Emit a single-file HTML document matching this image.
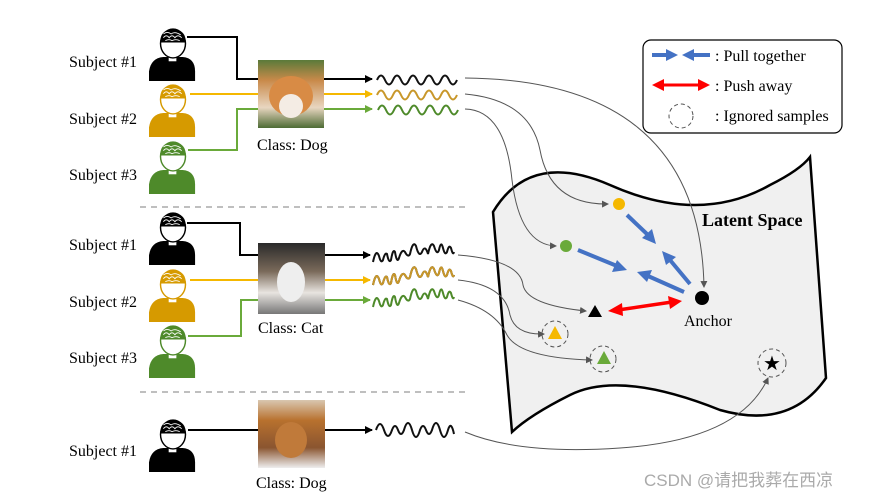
<!DOCTYPE html>
<html><head><meta charset="utf-8"><style>
html,body{margin:0;padding:0;background:#fff;}
svg{display:block;}
text{font-family:"Liberation Serif",serif;}
</style></head><body>
<svg width="871" height="499" viewBox="0 0 871 499" xmlns="http://www.w3.org/2000/svg">
<defs>
<marker id="ak" markerWidth="8" markerHeight="8" refX="7" refY="4" orient="auto" markerUnits="userSpaceOnUse"><path d="M0,0 L8,4 L0,8 Z" fill="#000"/></marker>
<marker id="ao" markerWidth="8" markerHeight="8" refX="7" refY="4" orient="auto" markerUnits="userSpaceOnUse"><path d="M0,0 L8,4 L0,8 Z" fill="#f5b800"/></marker>
<marker id="ag" markerWidth="8" markerHeight="8" refX="7" refY="4" orient="auto" markerUnits="userSpaceOnUse"><path d="M0,0 L8,4 L0,8 Z" fill="#6aaa3a"/></marker>
<marker id="ay" markerWidth="7" markerHeight="7" refX="6" refY="3.5" orient="auto" markerUnits="userSpaceOnUse"><path d="M0,0 L7,3.5 L0,7 Z" fill="#555"/></marker>
<linearGradient id="dog" x1="0" y1="0" x2="0" y2="1"><stop offset="0" stop-color="#5a7a3a"/><stop offset="0.3" stop-color="#c98a4a"/><stop offset="0.7" stop-color="#e8d6c0"/><stop offset="1" stop-color="#4d6b34"/></linearGradient>
<linearGradient id="cat" x1="0" y1="0" x2="0" y2="1"><stop offset="0" stop-color="#2a2a2a"/><stop offset="0.4" stop-color="#7a6a5a"/><stop offset="0.7" stop-color="#e8e4e0"/><stop offset="1" stop-color="#777"/></linearGradient>
<linearGradient id="dog2" x1="0" y1="0" x2="0" y2="1"><stop offset="0" stop-color="#d9c7b0"/><stop offset="0.3" stop-color="#b8712e"/><stop offset="0.7" stop-color="#8a5530"/><stop offset="1" stop-color="#eee"/></linearGradient>
<symbol id="p" viewBox="0 0 50 56" overflow="visible">
<path d="M0,54 L0,44 Q2,30 15,29 L35,29 Q48,30 48,44 L48,54 Z"/>
<rect x="20" y="26" width="9" height="8" fill="#fff" stroke="currentColor" stroke-width="1"/>
<ellipse cx="25" cy="15" rx="13" ry="15" fill="#fff" stroke="currentColor" stroke-width="1.5"/>
<path d="M12,14 Q11,1 25,0 Q39,1 38,14 Z"/>
<path d="M15,9 q3,-4 6,0 q3,-4 6,0 q3,-4 7,0 M15,5 q4,-3 8,0 q4,-3 10,1 M17,12 q4,-2 7,0 q4,-2 8,0" stroke="#fff" stroke-width="0.9" fill="none"/>
</symbol>
</defs>
<line x1="140" y1="207" x2="467" y2="207" stroke="#aaa" stroke-width="1.5" stroke-dasharray="6,5"/>
<line x1="140" y1="392" x2="467" y2="392" stroke="#aaa" stroke-width="1.5" stroke-dasharray="6,5"/>

<g font-size="16" fill="#000">
<text x="69" y="67">Subject #1</text>
<text x="69" y="124">Subject #2</text>
<text x="69" y="180">Subject #3</text>
<text x="69" y="250">Subject #1</text>
<text x="69" y="307">Subject #2</text>
<text x="69" y="363">Subject #3</text>
<text x="69" y="456">Subject #1</text>
<text x="257" y="150">Class: Dog</text>
<text x="258" y="333">Class: Cat</text>
<text x="256" y="488">Class: Dog</text>
</g>

<use href="#p" x="149" y="29" width="48" height="54" fill="#000" color="#000"/>
<use href="#p" x="149" y="85" width="48" height="54" fill="#d69a00" color="#d69a00"/>
<use href="#p" x="149" y="142" width="48" height="54" fill="#4e8a2a" color="#4e8a2a"/>
<use href="#p" x="149" y="213" width="48" height="54" fill="#000" color="#000"/>
<use href="#p" x="149" y="270" width="48" height="54" fill="#d69a00" color="#d69a00"/>
<use href="#p" x="149" y="326" width="48" height="54" fill="#4e8a2a" color="#4e8a2a"/>
<use href="#p" x="149" y="420" width="48" height="54" fill="#000" color="#000"/>

<g fill="none" stroke-width="2">
<polyline points="187,37 237,37 237,79 258,79" stroke="#000"/>
<line x1="324" y1="79" x2="372" y2="79" stroke="#000" marker-end="url(#ak)"/>
<line x1="190" y1="94" x2="372" y2="94" stroke="#f5b800" marker-end="url(#ao)"/>
<polyline points="188,150 237,150 237,109 258,109" stroke="#6aaa3a"/>
<line x1="324" y1="109" x2="372" y2="109" stroke="#6aaa3a" marker-end="url(#ag)"/>

<polyline points="187,223 240,223 240,255 258,255" stroke="#000"/>
<line x1="325" y1="255" x2="370" y2="255" stroke="#000" marker-end="url(#ak)"/>
<line x1="190" y1="280" x2="370" y2="280" stroke="#f5b800" marker-end="url(#ao)"/>
<polyline points="188,336 241,336 241,300 258,300" stroke="#6aaa3a"/>
<line x1="325" y1="300" x2="370" y2="300" stroke="#6aaa3a" marker-end="url(#ag)"/>

<line x1="188" y1="430" x2="372" y2="430" stroke="#000" marker-end="url(#ak)"/>
</g>

<rect x="258" y="60" width="66" height="68" fill="url(#dog)"/>
<ellipse cx="291" cy="96" rx="22" ry="20" fill="#d88b45"/><ellipse cx="291" cy="106" rx="12" ry="12" fill="#f4ece4"/>
<rect x="258" y="243" width="67" height="71" fill="url(#cat)"/>
<ellipse cx="291" cy="282" rx="14" ry="20" fill="#eee"/>
<rect x="258" y="400" width="67" height="68" fill="url(#dog2)"/>
<ellipse cx="291" cy="440" rx="16" ry="18" fill="#c07a3a"/>

<g fill="none" stroke-width="2">
<path d="M377,80 q4,-9 8,0 t8,0 t8,0 t8,0 t8,0 t8,0 t8,0 t8,0 t8,0 t8,0" stroke="#111"/>
<path d="M377,95 q4,-9 8,0 t8,0 t8,0 t8,0 t8,0 t8,0 t8,0 t8,0 t8,0 t8,0" stroke="#c8972a"/>
<path d="M378,110 q4,-9 8,0 t8,0 t8,0 t8,0 t8,0 t8,0 t8,0 t8,0 t8,0 t8,0" stroke="#4e8a2a"/>
<g id="cw">
<path d="M373,262 q3,-14 6,-6 q2,8 4,4 q2,-8 4,-6 q2,10 4,6 q2,-12 4,-8 q2,12 4,6 q3,-10 6,-6 q3,6 5,2 q3,-14 6,-8 q3,12 6,6 q3,-8 6,2 q3,-14 6,-8 q3,10 5,4 q2,-10 4,-2 q2,8 4,4 q2,-8 4,-4 q2,8 3,4" stroke="#111"/>
</g>
<use href="#cw" y="23" stroke="#c8972a"/>
<path d="M373,285 q3,-14 6,-6 q2,8 4,4 q2,-8 4,-6 q2,10 4,6 q2,-12 4,-8 q2,12 4,6 q3,-10 6,-6 q3,6 5,2 q3,-14 6,-8 q3,12 6,6 q3,-8 6,2 q3,-14 6,-8 q3,10 5,4 q2,-10 4,-2 q2,8 4,4 q2,-8 4,-4 q2,8 3,4" stroke="#c8972a"/>
<path d="M373,307 q3,-14 6,-6 q2,8 4,4 q2,-8 4,-6 q2,10 4,6 q2,-12 4,-8 q2,12 4,6 q3,-10 6,-6 q3,6 5,2 q3,-14 6,-8 q3,12 6,6 q3,-8 6,2 q3,-14 6,-8 q3,10 5,4 q2,-10 4,-2 q2,8 4,4 q2,-8 4,-4 q2,8 3,4" stroke="#4e8a2a"/>
<path d="M376,430 q4,-12 8,0 q4,12 8,0 q3,-8 6,0 q3,8 6,0 q4,-14 8,0 q4,14 8,0 q3,-8 6,0 q3,8 6,0 q4,-14 8,0 q4,14 8,0 q3,-10 6,4" stroke="#111"/>
</g>

<path d="M493,212 Q530,150 610,185 Q700,225 770,185 Q800,170 810,157 L826,378 Q790,430 720,410 Q620,370 570,395 Q530,415 512,432 Z" fill="#f0f0f0" stroke="#000" stroke-width="2.5"/>
<text x="702" y="226" font-size="18" font-weight="bold">Latent Space</text>

<g fill="none" stroke="#555" stroke-width="1" marker-end="url(#ay)">
<path d="M465,78 Q700,80 704,287"/>
<path d="M465,94 Q530,100 540,150 Q550,205 608,204"/>
<path d="M465,109 Q505,110 512,180 Q520,245 556,246"/>
<path d="M458,255 Q520,260 523,285 Q527,305 586,311"/>
<path d="M458,280 Q505,285 510,315 Q515,335 544,334"/>
<path d="M458,300 Q495,310 507,335 Q520,358 592,360"/>
<path d="M465,432 Q520,455 620,448 Q740,440 768,378"/>
</g>

<circle cx="619" cy="204" r="6" fill="#f5b800"/>
<circle cx="566" cy="246" r="6" fill="#6aaa3a"/>
<circle cx="702" cy="298" r="7" fill="#000"/>
<text x="684" y="326" font-size="16">Anchor</text>
<path d="M595,305 L602,317 L588,317 Z" fill="#000"/>
<circle cx="555" cy="334" r="13" fill="none" stroke="#555" stroke-dasharray="4,3"/>
<path d="M555,326 L562,339 L548,339 Z" fill="#f5b800"/>
<circle cx="603" cy="359" r="13" fill="none" stroke="#555" stroke-dasharray="4,3"/>
<path d="M604,351 L611,364 L597,364 Z" fill="#6aaa3a"/>
<circle cx="772" cy="363" r="14" fill="none" stroke="#555" stroke-dasharray="4,3"/>
<text x="772" y="370" font-size="20" text-anchor="middle" font-family="DejaVu Sans">★</text>

<g stroke="#4472c4" stroke-width="4" fill="#4472c4">
<line x1="627" y1="215" x2="648" y2="235"/><path d="M656,244 L642,238 L652,229 Z" stroke="none"/>
<line x1="578" y1="250" x2="617" y2="266"/><path d="M627,270 L612,272 L617,260 Z" stroke="none"/>
<line x1="690" y1="284" x2="670" y2="260"/><path d="M662,251 L676,257 L666,265 Z" stroke="none"/>
<line x1="684" y1="292" x2="648" y2="276"/><path d="M637,272 L652,270 L647,282 Z" stroke="none"/>
</g>
<g stroke="#f00" stroke-width="3.5" fill="#f00">
<line x1="618" y1="310" x2="672" y2="302"/>
<path d="M608,311 L622,303 L623,316 Z" stroke="none"/>
<path d="M682,301 L668,296 L670,309 Z" stroke="none"/>
</g>

<rect x="643" y="40" width="199" height="93" rx="8" fill="#fff" stroke="#000" stroke-width="1.2"/>
<g stroke="#4472c4" stroke-width="4" fill="#4472c4">
<line x1="652" y1="55" x2="668" y2="55"/><path d="M678,55 L666,49 L666,61 Z" stroke="none"/>
<line x1="694" y1="55" x2="710" y2="55"/><path d="M682,55 L694,49 L694,61 Z" stroke="none"/>
</g>
<g stroke="#f00" stroke-width="3" fill="#f00">
<line x1="662" y1="85" x2="700" y2="85"/>
<path d="M652,85 L664,79 L664,91 Z" stroke="none"/><path d="M710,85 L698,79 L698,91 Z" stroke="none"/>
</g>
<circle cx="681" cy="116" r="12" fill="none" stroke="#555" stroke-dasharray="4,3"/>
<g font-size="16">
<text x="715" y="61">: Pull together</text>
<text x="715" y="91">: Push away</text>
<text x="715" y="121">: Ignored samples</text>
</g>

<text x="644" y="486" font-size="17" fill="#aaa" style="font-family:'Liberation Sans','Noto Sans CJK SC',sans-serif">CSDN @请把我葬在西凉</text>
</svg>
</body></html>
